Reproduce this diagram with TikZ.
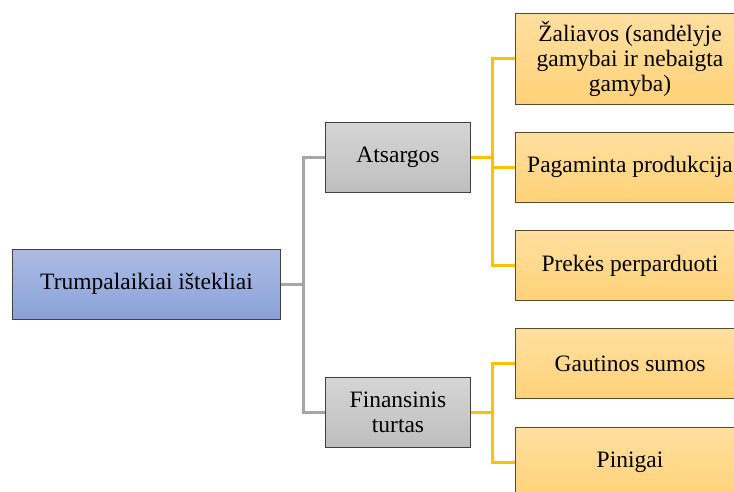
\documentclass[tikz,border=0pt]{standalone}
\usepackage{fontspec}
\setmainfont{Liberation Serif}
\definecolor{blueT}{RGB}{172,187,228}
\definecolor{blueB}{RGB}{138,162,216}
\definecolor{grayT}{RGB}{214,214,214}
\definecolor{grayB}{RGB}{190,190,190}
\definecolor{orT}{RGB}{255,223,160}
\definecolor{orB}{RGB}{255,210,120}
\definecolor{lineGray}{RGB}{166,166,166}
\definecolor{lineOr}{RGB}{255,192,0}
\definecolor{edgeDark}{RGB}{64,64,64}
\definecolor{edgeOr}{RGB}{90,75,45}
\begin{document}
\begin{tikzpicture}[x=1pt,y=-1pt,
  every node/.style={font=\fontsize{23.5}{25}\selectfont, inner sep=0pt, align=center, anchor=center},
  rootbox/.style={draw=edgeDark, line width=1pt, top color=blueT, bottom color=blueB, minimum width=268pt, minimum height=70pt},
  midbox/.style={draw=edgeDark, line width=1pt, top color=grayT, bottom color=grayB, minimum width=145pt, minimum height=70pt},
  leafbox/.style={draw=edgeOr, line width=1pt, top color=orT, bottom color=orB, minimum width=230pt, minimum height=70pt},
  grayline/.style={draw=lineGray, line width=3pt},
  orline/.style={draw=lineOr, line width=3pt}]
\useasboundingbox (0,0) rectangle (734,491);
\clip (0,0) rectangle (734,491);
\node[rootbox] (main) at (146.5,284) {Trumpalaikiai ištekliai};
\node[midbox] (ats) at (398,157) {Atsargos};
\node[midbox] (fin) at (398,412) {Finansinis\\turtas};
\node[leafbox, minimum height=91pt] (zal) at (630,58.5) {Žaliavos (sandėlyje\\gamybai ir nebaigta\\gamyba)};
\node[leafbox] (pag) at (630,167) {Pagaminta produkcija};
\node[leafbox] (pre) at (630,265.5) {Prekės perparduoti};
\node[leafbox] (gau) at (630,363.5) {Gautinos sumos};
\node[leafbox] (pin) at (630,462) {Pinigai};
\draw[grayline] (main.east) -- ++(22,0) |- (ats.west);
\draw[grayline] (main.east) -- ++(22,0) |- (fin.west);
\draw[orline] (ats.east) -- ++(21,0) |- (zal.west);
\draw[orline] (ats.east) -- ++(21,0) |- (pag.west);
\draw[orline] (ats.east) -- ++(21,0) |- (pre.west);
\draw[orline] (fin.east) -- ++(21,0) |- (gau.west);
\draw[orline] (fin.east) -- ++(21,0) |- (pin.west);
\end{tikzpicture}
\end{document}
